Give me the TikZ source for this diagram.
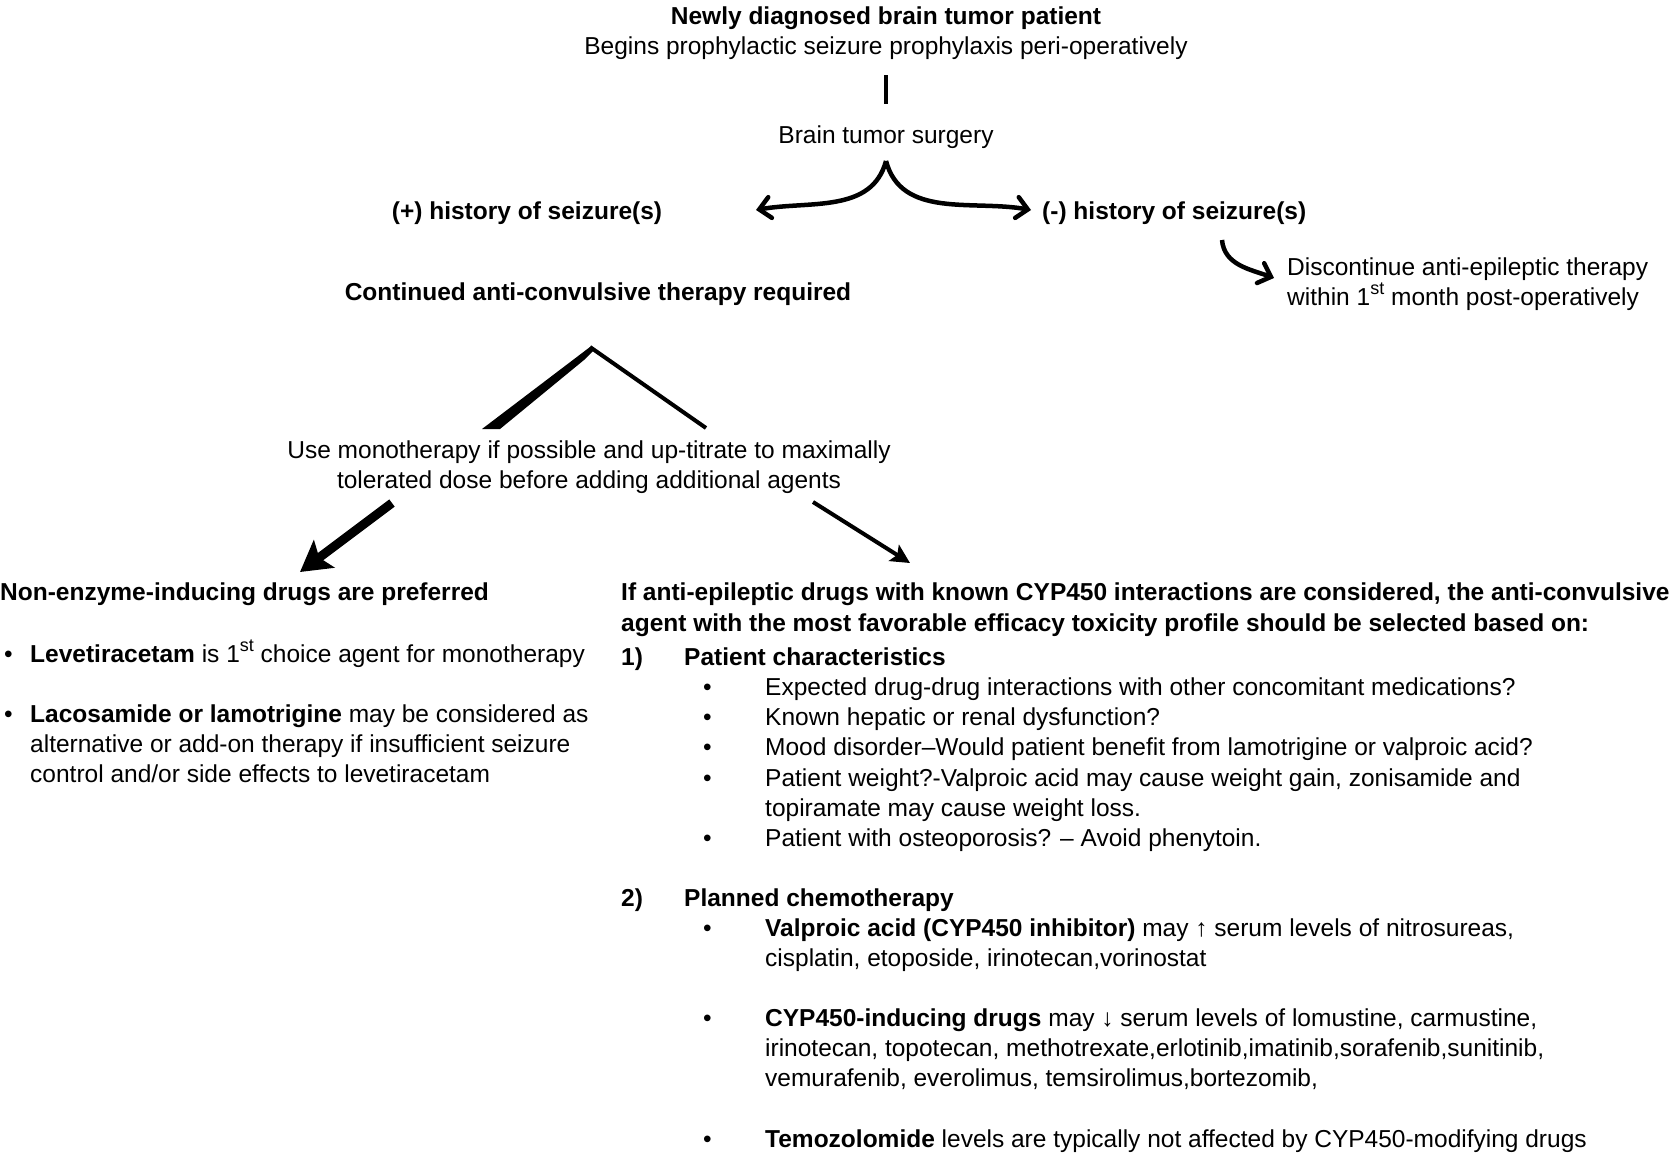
\documentclass[tikz,border=0pt]{standalone}
\usepackage{fontspec}
\setmainfont{Liberation Sans}
\usetikzlibrary{arrows.meta}
\newcommand\myst{\raisebox{0.42em}{\fontsize{18}{18}\selectfont st}}
\begin{document}
\begin{tikzpicture}[x=1pt,y=-1pt,
  txt/.style={inner sep=0pt, font=\fontsize{24.5}{30}\selectfont},
  lw/.style={txt, anchor=base west},
  cw/.style={txt, anchor=base},
  bw/.style={txt, anchor=base west, font=\fontsize{24.5}{30}\selectfont\bfseries},
  bc/.style={txt, anchor=base, font=\fontsize{24.5}{30}\selectfont\bfseries},
  curvearrow/.style={line width=4.5pt, -{Straight Barb[length=11pt,width=21pt,line cap=round]}},
  thickarrow/.style={line width=9pt, -{Stealth[length=30pt,width=34pt,inset=6pt]}},
  thinarrow/.style={line width=4pt, -{Stealth[length=19pt,width=19pt,inset=4pt]}}]
\path[use as bounding box] (0,0) rectangle (1679,1154);

% top
\node[bc] (title) at (886,24) {Newly diagnosed brain tumor patient};
\node[cw] (sub) at (886,54) {Begins prophylactic seizure prophylaxis peri-operatively};
\node[cw] (surg) at (886,143) {Brain tumor surgery};
\draw[line width=4pt, shorten <=16pt, shorten >=21pt] (sub.south) -- (surg.north);

\node[bc] (pos) at (527,219) {(+) history of seizure(s)};
\node[bw] (neg) at (1042,219) {(-) history of seizure(s)};
\coordinate (split) at (886,161);
\coordinate (tipL) at (756,210);
\coordinate (tipR) at (1031,210);
\draw[curvearrow] (split) to[out=-105,in=10] (tipL);
\draw[curvearrow] (split) to[out=-75,in=170] (tipR);

\node[lw] (disc1) at (1287,275) {Discontinue anti-epileptic therapy};
\node[lw] (disc2) at (1287,305) {within 1\myst{} month post-operatively};
\coordinate (negout) at (1222,240);
\coordinate (tipD) at (1274,278);
\draw[curvearrow] (negout) to[out=-85,in=160] (tipD);

\node[bc] (cont) at (598,300) {Continued anti-convulsive therapy required};
\coordinate (apex) at (590,347);
\coordinate (legR) at (706,428);
\fill (apex) -- (482,429) -- (500,429) -- (584,360) -- (593,351) -- cycle;
\draw[line width=4pt] (apex) -- (legR);

\node[cw] (mono1) at (589,458) {Use monotherapy if possible and up-titrate to maximally};
\node[cw] (mono2) at (589,488) {tolerated dose before adding additional agents};
\coordinate (aL0) at (392,503);
\coordinate (aL1) at (300,572);
\coordinate (aR0) at (813,502);
\coordinate (aR1) at (910,563);
\draw[thickarrow] (aL0) -- (aL1);
\draw[thinarrow] (aR0) -- (aR1);

% left column
\node[bw] (nonenz) at (0,600) {Non-enzyme-inducing drugs are preferred};
\node[lw] (lb1) at (4,662) {\textbullet};
\node[lw] (lt1) at (30,662) {\textbf{Levetiracetam} is 1\myst{} choice agent for monotherapy};
\node[lw] (lb2) at (4,722) {\textbullet};
\node[lw] (lt2) at (30,722) {\textbf{Lacosamide or lamotrigine} may be considered as};
\node[lw] (lt3) at (30,752) {alternative or add-on therapy if insufficient seizure};
\node[lw] (lt4) at (30,782) {control and/or side effects to levetiracetam};

% right column
\node[bw] (rh1) at (621,600) {If anti-epileptic drugs with known CYP450 interactions are considered, the anti-convulsive};
\node[bw] (rh2) at (621,631) {agent with the most favorable efficacy toxicity profile should be selected based on:};
\node[bw] (n1) at (621,665) {1)};
\node[bw] (pc) at (684,665) {Patient characteristics};
\node[lw] (b1) at (703,695) {\textbullet};
\node[lw] (t1) at (765,695) {Expected drug-drug interactions with other concomitant medications?};
\node[lw] (b2) at (703,725) {\textbullet};
\node[lw] (t2) at (765,725) {Known hepatic or renal dysfunction?};
\node[lw] (b3) at (703,755) {\textbullet};
\node[lw] (t3) at (765,755) {Mood disorder–Would patient benefit from lamotrigine or valproic acid?};
\node[lw] (b4) at (703,786) {\textbullet};
\node[lw] (t4) at (765,786) {Patient weight?-Valproic acid may cause weight gain, zonisamide and};
\node[lw] (t4b) at (765,816) {topiramate may cause weight loss.};
\node[lw] (b5) at (703,846) {\textbullet};
\node[lw] (t5) at (765,846) {Patient with osteoporosis? – Avoid phenytoin.};

\node[bw] (n2) at (621,906) {2)};
\node[bw] (pch) at (684,906) {Planned chemotherapy};
\node[lw] (b6) at (703,936) {\textbullet};
\node[lw] (t6) at (765,936) {\textbf{Valproic acid (CYP450 inhibitor)} may ↑ serum levels of nitrosureas,};
\node[lw] (t6b) at (765,966) {cisplatin, etoposide, irinotecan,vorinostat};
\node[lw] (b7) at (703,1026) {\textbullet};
\node[lw] (t7) at (765,1026) {\textbf{CYP450-inducing drugs} may ↓ serum levels of lomustine, carmustine,};
\node[lw] (t7b) at (765,1056) {irinotecan, topotecan, methotrexate,erlotinib,imatinib,sorafenib,sunitinib,};
\node[lw] (t7c) at (765,1086) {vemurafenib, everolimus, temsirolimus,bortezomib,};
\node[lw] (b8) at (703,1147) {\textbullet};
\node[lw] (t8) at (765,1147) {\textbf{Temozolomide} levels are typically not affected by CYP450-modifying drugs};
\end{tikzpicture}
\end{document}
